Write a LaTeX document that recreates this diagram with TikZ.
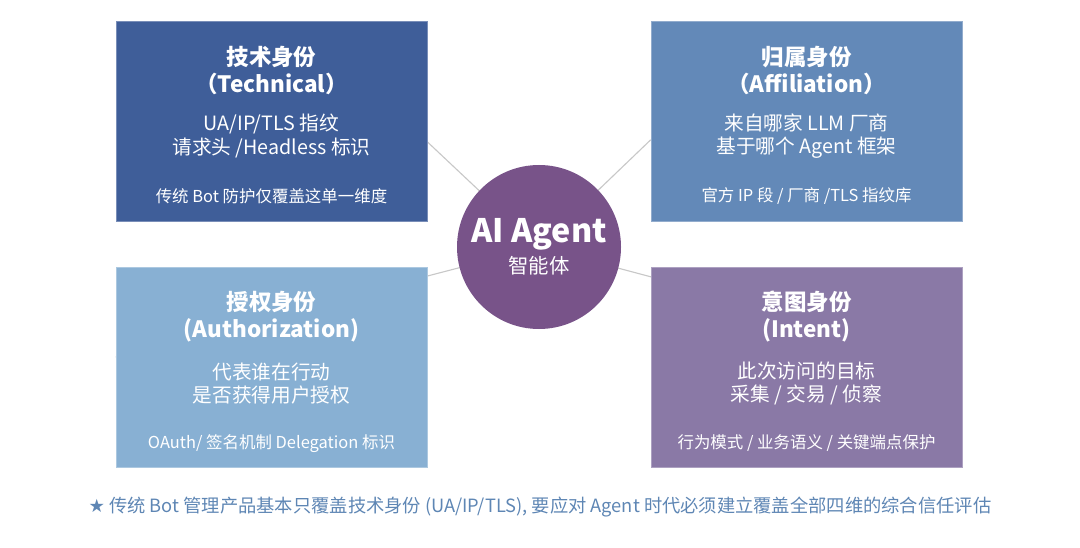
\documentclass[tikz,border=0pt]{standalone}
\usepackage{fontspec}
\setmainfont{Noto Sans CJK SC}
\newfontfamily\starfont{DejaVu Sans}
\usetikzlibrary{backgrounds}

\definecolor{techblue}{HTML}{3F5E99}
\definecolor{affilblue}{HTML}{6389B8}
\definecolor{authblue}{HTML}{88B0D3}
\definecolor{intentpurple}{HTML}{8A79A6}
\definecolor{agentpurple}{HTML}{785389}
\definecolor{spokegray}{HTML}{C8C8C8}
\definecolor{captionblue}{HTML}{5E86B4}

\begin{document}
\begin{tikzpicture}[
    id box/.style={
        rectangle,
        minimum width=7.775cm,
        minimum height=5cm,
        inner sep=0pt
    },
    id title/.style={
        text=white,
        font=\fontsize{16}{19.5}\selectfont\bfseries,
        align=center
    },
    id text/.style={
        text=white,
        font=\fontsize{14}{16.5}\selectfont,
        align=center
    },
    id note/.style={
        text=white,
        font=\fontsize{11.7}{14}\selectfont
    },
    spoke/.style={
        color=spokegray,
        line width=0.8pt
    }
]

\useasboundingbox (0,0) rectangle (27,13.675);

% centre
\node[circle, fill=agentpurple, minimum size=4.1cm, inner sep=0pt, align=center, text=white] (agent) at (13.475,7.5)
    {{\fontsize{23}{26}\selectfont\bfseries AI Agent}\\[3pt]{\fontsize{14.5}{17}\selectfont 智能体}};

% four boxes
\node[id box, fill=techblue, draw=techblue!70!white, line width=0.4pt] (tech) at (6.7875,10.65) {};
\node[id box, fill=affilblue, draw=affilblue!70!white, line width=0.4pt] (affil) at (20.1625,10.65) {};
\node[id box, fill=authblue, draw=authblue!70!white, line width=0.4pt] (auth) at (6.7875,4.4875) {};
\node[id box, fill=intentpurple, draw=intentpurple!70!white, line width=0.4pt] (intent) at (20.1625,4.4875) {};

% spokes
\begin{scope}[on background layer]
\draw[spoke] (agent.center) -- ([yshift=-0.52cm]tech.east);
\draw[spoke] (agent.center) -- ([yshift=-0.47cm]affil.west);
\draw[spoke] (agent.center) -- ([yshift=0.26cm]auth.west);
\draw[spoke] (agent.center) -- ([yshift=0.19cm]intent.east);
\end{scope}

% texts
\node[id title] (techtitle) at ([yshift=-1.24cm]tech.north) {技术身份\\（Technical）};
\node[id text] (techtext) at ([yshift=-2.88cm]tech.north) {UA/IP/TLS 指纹\\请求头 /Headless 标识};
\node[id note] (technote) at ([yshift=-4.38cm]tech.north) {传统 Bot 防护仅覆盖这单一维度};

\node[id title] (affiltitle) at ([yshift=-1.24cm]affil.north) {归属身份\\（Affiliation）};
\node[id text] (affiltext) at ([yshift=-2.88cm]affil.north) {来自哪家 LLM 厂商\\基于哪个 Agent 框架};
\node[id note] (affilnote) at ([yshift=-4.38cm]affil.north) {官方 IP 段 / 厂商 /TLS 指纹库};

\node[id title] (authtitle) at ([yshift=-1.24cm]auth.north) {授权身份\\(Authorization)};
\node[id text] (authtext) at ([yshift=-2.9cm]auth.north) {代表谁在行动\\是否获得用户授权};
\node[id note] (authnote) at ([yshift=-4.4cm]auth.north) {OAuth/ 签名机制 Delegation 标识};

\node[id title] (intenttitle) at ([yshift=-1.24cm]intent.north) {意图身份\\(Intent)};
\node[id text] (intenttext) at ([yshift=-2.9cm]intent.north) {此次访问的目标\\采集 / 交易 / 侦察};
\node[id note] (intentnote) at ([yshift=-4.4cm]intent.north) {行为模式 / 业务语义 / 关键端点保护};

% caption
\node[text=captionblue, font=\fontsize{13}{15}\selectfont] (caption) at (13.5,1.0)
    {{\starfont ★} 传统 Bot 管理产品基本只覆盖技术身份 (UA/IP/TLS), 要应对 Agent 时代必须建立覆盖全部四维的综合信任评估};

\end{tikzpicture}
\end{document}
